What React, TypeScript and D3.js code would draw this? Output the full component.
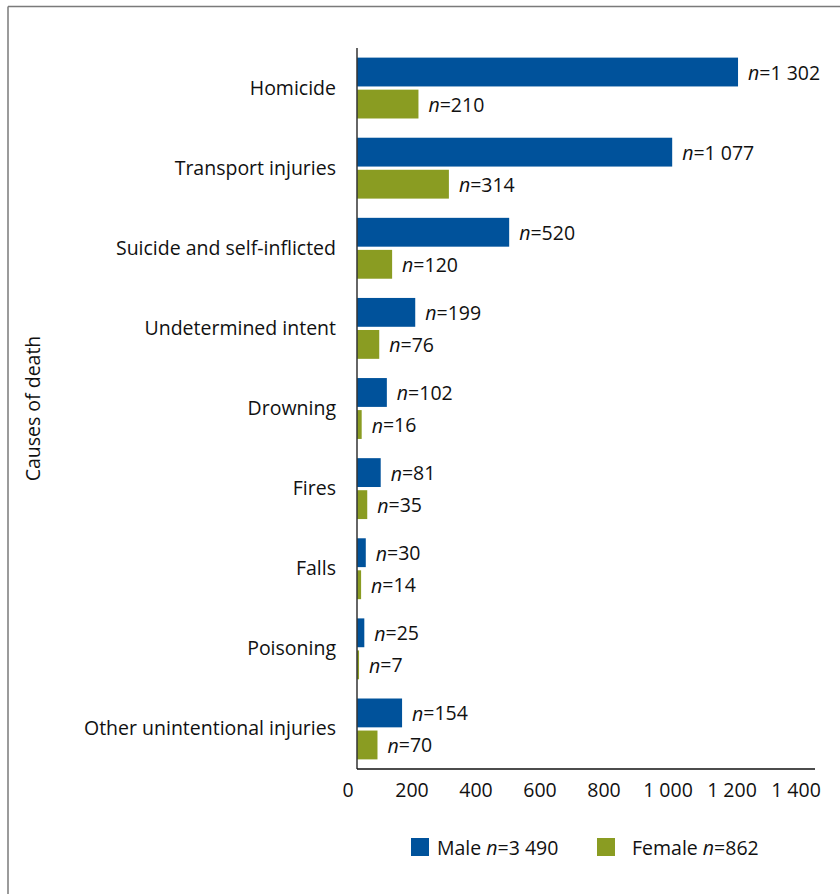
import React from "react";
import * as d3 from "d3";

const categories = [
  "Homicide",
  "Transport injuries",
  "Suicide and self-inflicted",
  "Undetermined intent",
  "Drowning",
  "Fires",
  "Falls",
  "Poisoning",
  "Other unintentional injuries",
];
const maleValues = [1302, 1077, 520, 199, 102, 81, 30, 25, 154];
const femaleValues = [210, 314, 120, 76, 16, 35, 14, 7, 70];
const seriesNames = ["Male", "Female"];
const seriesTotals = ["3 490", "862"];
const tickValues = [0, 200, 400, 600, 800, 1000, 1200, 1400];
const axisMax = 1565;
const yTitle = "Causes of death";

const W = 840;
const H = 894;
const FONT = "'Open Sans', 'Noto Sans', sans-serif";
const FS = 19.5;
const TXT = "#111";
const COLORS = ["#00529b", "#8a9c22"];

const fmt = (v: number) => {
  const s = String(v);
  return s.length > 3 ? s.slice(0, s.length - 3) + " " + s.slice(-3) : s;
};

export default function App() {
  const plotLeft = 357;
  const plotRight = 815;
  const plotTop = 48;
  const plotBottom = 769;

  const x = d3.scaleLinear().domain([0, axisMax]).range([plotLeft, plotRight]);
  const xTicks = d3.scaleLinear().domain([0, 1400]).range([348, 796]);
  const y0 = d3
    .scaleBand<string>()
    .domain(categories)
    .range([plotTop, plotBottom])
    .paddingInner(0.24)
    .paddingOuter(0.12);
  const y1 = d3
    .scaleBand<string>()
    .domain(seriesNames)
    .range([0, y0.bandwidth()])
    .paddingInner(0.1);

  const series = [maleValues, femaleValues];

  return (
    <svg
      width={W}
      height={H}
      style={{ position: "absolute", left: 0, top: 0, background: "#fff" }}
      fontFamily={FONT}
    >
      <rect x={0} y={0} width={W} height={H} fill="#fff" />
      {/* frame */}
      <line x1={8} y1={6.5} x2={W} y2={6.5} stroke="#7a7a7a" strokeWidth={1.5} />
      <line x1={8} y1={6.5} x2={8} y2={H} stroke="#7a7a7a" strokeWidth={1.5} />

      {/* bars */}
      {categories.map((c, i) => (
        <g key={c}>
          {series.map((vals, s) => {
            const yy = (y0(c) ?? 0) + (y1(seriesNames[s]) ?? 0);
            const bh = y1.bandwidth();
            return (
              <g key={s}>
                <rect
                  x={x(0)}
                  y={yy}
                  width={x(vals[i]) - x(0)}
                  height={bh}
                  fill={COLORS[s]}
                />
                <text
                  x={x(vals[i]) + 10}
                  y={yy + bh / 2}
                  dominantBaseline="central"
                  fontSize={FS}
                  fill={TXT}
                >
                  <tspan fontStyle="italic">n</tspan>={fmt(vals[i])}
                </text>
              </g>
            );
          })}
          <text
            x={plotLeft - 21}
            y={(y0(c) ?? 0) + y0.bandwidth() / 2 - 1}
            textAnchor="end"
            dominantBaseline="central"
            fontSize={FS}
            fill={TXT}
          >
            {c}
          </text>
        </g>
      ))}

      {/* axes */}
      <line x1={plotLeft} y1={plotTop} x2={plotLeft} y2={plotBottom} stroke="#333" strokeWidth={1.5} />
      <line x1={plotLeft} y1={plotBottom} x2={plotRight} y2={plotBottom} stroke="#111" strokeWidth={1.5} />
      {tickValues.map((t) => (
        <text
          key={t}
          x={xTicks(t)}
          y={797}
          textAnchor="middle"
          fontSize={FS}
          fill={TXT}
        >
          {fmt(t)}
        </text>
      ))}

      {/* y title */}
      <text
        transform={`translate(32, ${(plotTop + plotBottom) / 2}) rotate(-90)`}
        textAnchor="middle"
        dominantBaseline="central"
        fontSize={FS}
        fill={TXT}
      >
        {yTitle}
      </text>

      {/* legend */}
      {seriesNames.map((s, i) => {
        const lx = i === 0 ? 411 : 597;
        return (
          <g key={s}>
            <rect x={lx} y={838} width={18} height={18} fill={COLORS[i]} />
            <text
              x={lx + (i === 0 ? 26 : 35)}
              y={847}
              dominantBaseline="central"
              fontSize={FS}
              fill={TXT}
            >
              {s} <tspan fontStyle="italic">n</tspan>={seriesTotals[i]}
            </text>
          </g>
        );
      })}
    </svg>
  );
}
